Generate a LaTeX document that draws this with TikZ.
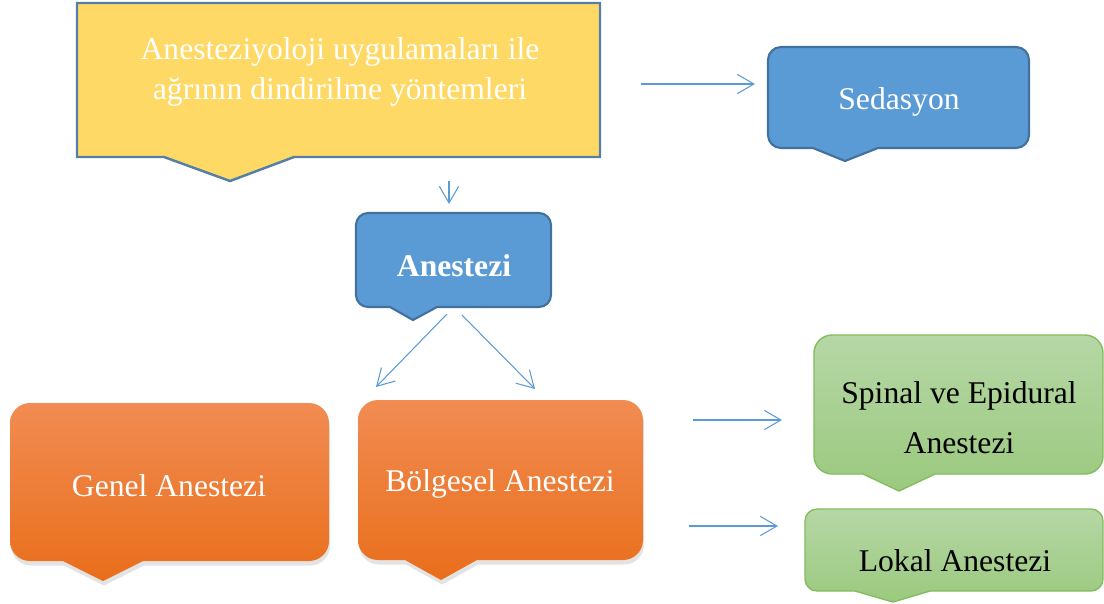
\documentclass[tikz,border=0pt]{standalone}
\usepackage{fontspec}
\setmainfont{Liberation Serif}
\usetikzlibrary{arrows.meta,shadows}
\definecolor{boxyellow}{HTML}{FFD966}
\definecolor{edgeblue}{HTML}{41719C}
\definecolor{boxblue}{HTML}{5B9BD5}
\definecolor{orangetop}{HTML}{F18C52}
\definecolor{orangebot}{HTML}{E96E1B}
\definecolor{greentop}{HTML}{B6D7A6}
\definecolor{greenbot}{HTML}{9BC97E}
\definecolor{greenedge}{HTML}{84BC60}
% rounded box with a pointer at the bottom
% #1 radius, #2 #3 top left, #4 #5 bottom right, #6 #7 pointer base, #8 #9 pointer tip
\newcommand{\bubble}[9]{(#2+#1,#3) -- (#4-#1,#3) arc[start angle=-90,end angle=0,radius=#1]
  -- (#4,#5-#1) arc[start angle=0,end angle=90,radius=#1]
  -- (#7,#5) -- (#8,#9) -- (#6,#5)
  -- (#2+#1,#5) arc[start angle=90,end angle=180,radius=#1]
  -- (#2,#3+#1) arc[start angle=180,end angle=270,radius=#1] -- cycle}
\tikzset{
    flowarrow/.style={
        line width=0.6pt,
        boxblue,
        -{Straight Barb[length=9.5pt, width=11pt]}
    },
    bluebox/.style={fill=boxblue, draw=edgeblue, line width=1.2pt},
    orangebox/.style={top color=orangetop, bottom color=orangebot,
        drop shadow={opacity=0.22, shadow xshift=0.6pt, shadow yshift=-2.6pt}},
    greenbox/.style={top color=greentop, bottom color=greenbot, draw=greenedge, line width=0.8pt},
    boxtext/.style={font=\fontsize{18}{23}\selectfont, text=white, align=center, inner sep=0pt}
}
\begin{document}
\begin{tikzpicture}[x=0.02cm,y=-0.02cm]
    \useasboundingbox (0,0) rectangle (1104,603);
    % ===================== top =====================
    \draw[fill=boxyellow, draw=edgeblue!90, line width=1.4pt]
     (77,3) -- (600,3) -- (600,157) -- (294,157) -- (230,181) -- (164,157) -- (77,157) -- cycle;
    \node[boxtext] (title) at (340,72) {Anesteziyoloji uygulamaları ile\\ağrının dindirilme yöntemleri};

    \draw[bluebox] \bubble{13}{768}{47}{1029}{148}{813}{878}{845}{161};
    \node[boxtext] (sedasyon) at (899,102) {Sedasyon};

    \draw[bluebox] \bubble{12}{356}{213}{551}{307}{390}{437}{413}{320};
    \node[boxtext, font=\fontsize{18}{23}\selectfont\bfseries] (anestezi) at (454,266) {Anestezi};

    % ===================== bottom =====================
    \path[orangebox] \bubble{20}{10}{403}{329}{561}{63}{143}{103}{581};
    \node[boxtext] (genel) at (169,486) {Genel Anestezi};

    \path[orangebox] \bubble{20}{358}{400}{643}{560}{405}{477}{441}{580};
    \node[boxtext] (bolgesel) at (500,484) {Bölgesel Anestezi};

    \draw[greenbox] \bubble{18}{814}{335}{1103}{474}{863}{935}{899}{491};
    \node[boxtext, text=black, font=\fontsize{18}{28.5}\selectfont] (spinal) at (959,418) {Spinal ve Epidural\\Anestezi};

    \draw[greenbox] \bubble{12}{805}{509}{1103}{591}{855}{930}{893}{602};
    \node[boxtext, text=black] (lokal) at (955,561) {Lokal Anestezi};

    %arrows
    \path
     (641,84) coordinate (s1) (755,84) coordinate (s2)
     (449,181) coordinate (d1) (449,204) coordinate (d2)
     (447,314) coordinate (g1) (376,387) coordinate (g2)
     (462,315) coordinate (b1) (535,389) coordinate (b2)
     (693,420) coordinate (e1) (782,420) coordinate (e2)
     (689,526) coordinate (l1) (778,526) coordinate (l2);
    \draw[flowarrow] (s1) -- (s2);
    \draw[flowarrow] (d1) -- (d2);
    \draw[flowarrow] (g1) -- (g2);
    \draw[flowarrow] (b1) -- (b2);
    \draw[flowarrow] (e1) -- (e2);
    \draw[flowarrow] (l1) -- (l2);
\end{tikzpicture}
\end{document}
